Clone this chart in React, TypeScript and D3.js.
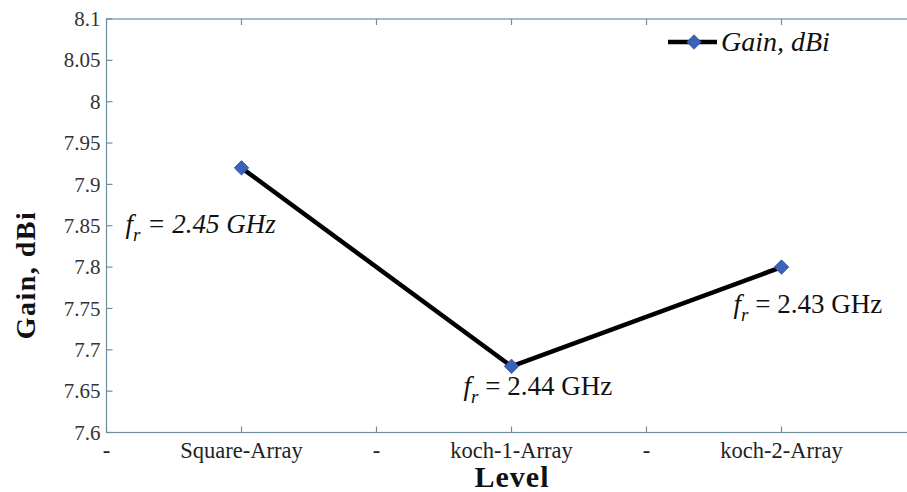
import React from "react";
import * as d3 from "d3";

// Category slots along the x axis ("-" marks the spacer slots)
const categories = ["-", "Square-Array", "-", "koch-1-Array", "-", "koch-2-Array"];
const designs = ["Square-Array", "koch-1-Array", "koch-2-Array"];
const gainDbi = [7.92, 7.68, 7.8];
const resonance = ["2.45 GHz", "2.44 GHz", "2.43 GHz"];
const yTicks = [7.6, 7.65, 7.7, 7.75, 7.8, 7.85, 7.9, 7.95, 8, 8.05, 8.1];

const W = 907;
const H = 492;
const left = 106.5;
const top = 19;
const bottom = 432.5;
const step = 135;
const slots = categories.length; // frame runs one slot past the last category

const x = d3.scaleLinear().domain([0, slots]).range([left, left + step * slots]);
const y = d3.scaleLinear().domain([7.6, 8.1]).range([bottom, top]);
const right = x(slots);

const axisColor = "#6f8fa0";
const serif = "'Liberation Serif', 'DejaVu Serif', serif";

// label offsets relative to each point
const labelOffsets = [
  { dx: -116, dy: 65 },
  { dx: -48, dy: 29 },
  { dx: -48, dy: 46 },
];

export default function App() {
  const pts = designs.map((d, i) => [x(categories.indexOf(d)), y(gainDbi[i])] as [number, number]);
  const line = d3.line()(pts) || "";
  // square marker turned 45° to form a diamond
  const diamond = d3.symbol().type(d3.symbolSquare).size(105)() || "";
  const tickLen = 6;
  const tickIdx = d3.range(slots + 1);

  return (
    <svg
      width={W}
      height={H}
      style={{ position: "absolute", left: 0, top: 0, background: "#fff" }}
      fontFamily={serif}
    >
      <rect x={0} y={0} width={W} height={H} fill="#fff" />
      {/* frame */}
      <rect x={left} y={top} width={right - left} height={bottom - top} fill="none" stroke={axisColor} strokeWidth={1.2} />

      {/* y ticks and labels */}
      {yTicks.map((t) => (
        <g key={t}>
          <line x1={left} x2={left + tickLen} y1={y(t)} y2={y(t)} stroke={axisColor} strokeWidth={1.2} />
          <text x={left - 6} y={y(t)} dy="0.34em" textAnchor="end" fontSize={21} fill="#333">
            {d3.format("")(t)}
          </text>
        </g>
      ))}

      {/* x ticks */}
      {tickIdx.map((i) => (
        <g key={i}>
          <line x1={x(i)} x2={x(i)} y1={bottom} y2={bottom - tickLen} stroke={axisColor} strokeWidth={1.2} />
          <line x1={x(i)} x2={x(i)} y1={top} y2={top + tickLen} stroke={axisColor} strokeWidth={1.2} />
        </g>
      ))}
      {/* x labels */}
      {categories.map((c, i) => (
        <text key={i} x={x(i)} y={458} textAnchor="middle" fontSize={22.5} fill="#222">
          {c}
        </text>
      ))}

      {/* axis titles */}
      <text x={512} y={487} textAnchor="middle" fontSize={30} fontWeight="bold" fill="#111" letterSpacing={1}>
        Level
      </text>
      <text
        transform={`translate(35,275) rotate(-90)`}
        textAnchor="middle"
        fontSize={28}
        fontWeight="bold"
        fill="#111"
        letterSpacing={1.5}
      >
        Gain, dBi
      </text>

      {/* data line */}
      <path d={line} fill="none" stroke="#000" strokeWidth={4.5} strokeLinejoin="round" />
      {pts.map((p, i) => (
        <path key={i} d={diamond} transform={`translate(${p[0]},${p[1]}) rotate(45)`} fill="#3a62b8" stroke="#2f55a8" strokeWidth={0.8} />
      ))}

      {/* resonance annotations */}
      {pts.map((p, i) => {
        const o = labelOffsets[i];
        return (
          <text key={i} x={p[0] + o.dx} y={p[1] + o.dy} fontSize={27} fill="#111">
            <tspan fontStyle="italic">f</tspan>
            <tspan fontStyle="italic" fontSize={19} dy={8}>r</tspan>
            <tspan dy={-8} fontStyle={i === 0 ? "italic" : "normal"}>{` = ${resonance[i]}`}</tspan>
          </text>
        );
      })}

      {/* legend */}
      <line x1={668} x2={717} y1={42} y2={42} stroke="#000" strokeWidth={4.5} />
      <path d={diamond} transform="translate(694,42) rotate(45)" fill="#3a62b8" stroke="#2f55a8" strokeWidth={0.8} />
      <text x={721} y={51} fontSize={28} fontStyle="italic" fill="#111">
        Gain, dBi
      </text>
    </svg>
  );
}
